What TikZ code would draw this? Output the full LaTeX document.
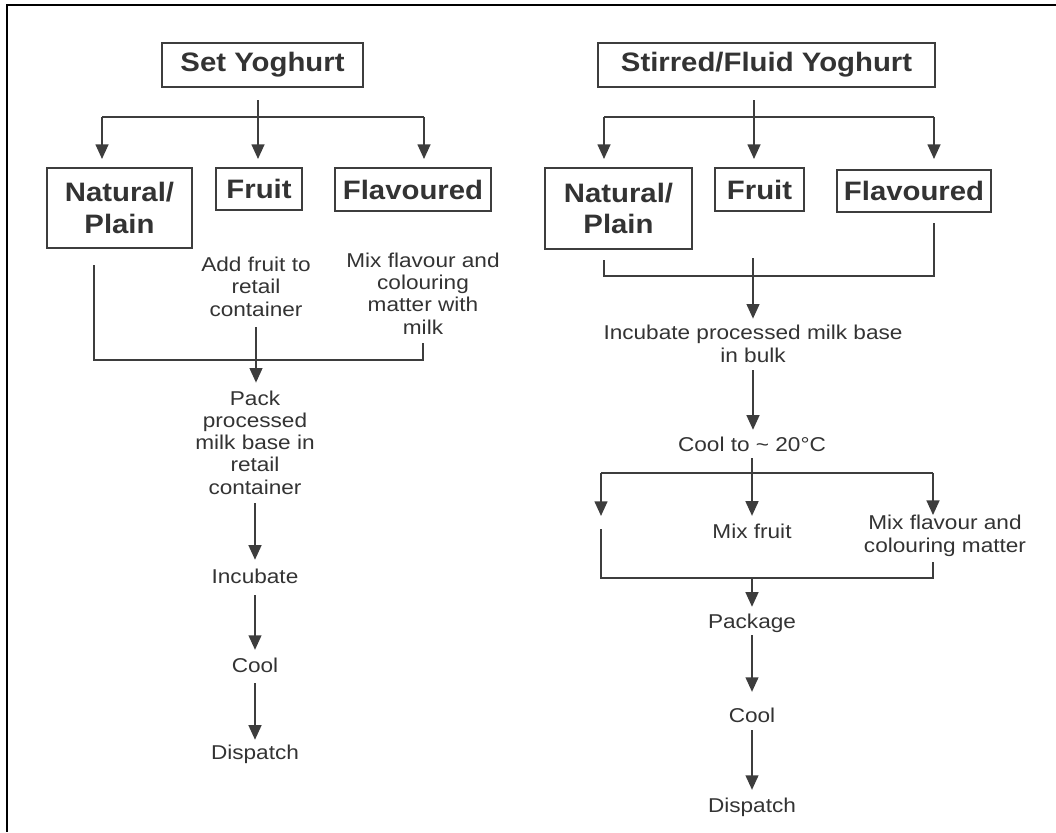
\documentclass[tikz,border=0pt]{standalone}
\usepackage{fontspec}
\setmainfont{Liberation Sans}
\newfontfamily\bodyfont[FakeStretch=1.13]{Liberation Sans}
\newfontfamily\headfont[FakeStretch=1.1]{Liberation Sans}
\usetikzlibrary{arrows.meta}
\definecolor{ink}{HTML}{333333}
\definecolor{rule}{HTML}{3D3D3D}

\begin{document}
\begin{tikzpicture}[x=0.75pt,y=-0.75pt,
  typebox/.style={draw=rule, line width=1.4pt, text=ink, align=center, inner sep=0pt,
    font=\headfont\bfseries\fontsize{20pt}{23.6pt}\selectfont},
  stepnote/.style={text=ink, align=center, inner sep=0pt, anchor=base,
    font=\bodyfont\fontsize{15pt}{16.6pt}\selectfont},
  flow/.style={draw=rule, line width=1.7pt},
  flowarrow/.style={flow, -{Triangle[length=11pt,width=9.5pt]}},
]
\useasboundingbox (0,0) rectangle (1056,832);

% page frame
\draw[black, line width=1.5pt] (1056,5) -- (7,5) -- (7,832);

% ---------------- Set yoghurt ----------------
% (multi-line notes are placed by the baseline of their last line)
\node[typebox, minimum width=150.75pt, minimum height=33pt] (sy) at (262.5,65) {Set Yoghurt};
\node[typebox, minimum width=108.75pt, minimum height=60pt] (np) at (119.5,208) {Natural/\\Plain};
\node[typebox, minimum width=64.5pt, minimum height=31.5pt] (fr) at (259,189) {Fruit};
\node[typebox, minimum width=117pt, minimum height=32.25pt] (fl) at (413,189.5) {Flavoured};

\node[stepnote] (addfr) at (256,316) {Add fruit to\\retail\\container};
\node[stepnote] (mixfl) at (423,334) {Mix flavour and\\colouring\\matter with\\milk};
\node[stepnote] (pack) at (255,494) {Pack\\processed\\milk base in\\retail\\container};
\node[stepnote] (inc) at (255,583) {Incubate};
\node[stepnote] (cool) at (255,672) {Cool};
\node[stepnote] (disp) at (255,759) {Dispatch};

\coordinate (sy-stem) at (258,100);
\coordinate (sy-bar-l) at (102,117);
\coordinate (sy-bar-r) at (424,117);
\draw[flow] (sy-stem) -- (sy-stem |- sy-bar-l);
\draw[flow] (sy-bar-l) -- (sy-bar-r);
\draw[flowarrow, shorten >=6pt] (sy-bar-l) -- (sy-bar-l |- np.north);
\draw[flowarrow, shorten >=6pt] (sy-stem) -- (sy-stem |- fr.north);
\draw[flowarrow, shorten >=6pt] (sy-bar-r) -- (sy-bar-r |- fl.north);

\coordinate (np-drop) at (94,265);
\coordinate (fl-drop) at (423,343);
\coordinate (set-join) at (255,360);
\draw[flow] (np-drop) -- (np-drop |- set-join) -- (set-join -| fl-drop) -- (fl-drop);

\draw[flowarrow, shorten <=8.25pt, shorten >=6pt] (addfr.south) -- (addfr.south |- pack.north);
\draw[flowarrow, shorten <=6.75pt, shorten >=6.3pt] (pack.south) -- (inc.north);
\draw[flowarrow, shorten <=9pt, shorten >=5.5pt] (inc.south) -- (cool.north);
\draw[flowarrow, shorten <=8.25pt, shorten >=3.3pt] (cool.south) -- (disp.north);

% ---------------- Stirred / fluid yoghurt ----------------
\node[typebox, minimum width=252.75pt, minimum height=33pt] (st) at (766.5,65) {Stirred/Fluid Yoghurt};
\node[typebox, minimum width=110.25pt, minimum height=60.75pt] (np2) at (618.5,208.5) {Natural/\\Plain};
\node[typebox, minimum width=66.75pt, minimum height=32.25pt] (fr2) at (759.5,189.5) {Fruit};
\node[typebox, minimum width=115.5pt, minimum height=31.5pt] (fl2) at (914,191) {Flavoured};

\node[stepnote] (incb) at (753,362) {Incubate processed milk base\\in bulk};
\node[stepnote] (cool20) at (752,451) {Cool to \textasciitilde{} 20\textdegree C};
\node[stepnote] (mixfr) at (752,538) {Mix fruit};
\node[stepnote] (mixfl2) at (945,552) {Mix flavour and\\colouring matter};
\node[stepnote] (pkg) at (752,628) {Package};
\node[stepnote] (cool2) at (752,722) {Cool};
\node[stepnote] (disp2) at (752,812) {Dispatch};

\coordinate (st-stem) at (754,100);
\coordinate (st-bar-l) at (604,117);
\coordinate (st-bar-r) at (934,117);
\draw[flow] (st-stem) -- (st-stem |- st-bar-l);
\draw[flow] (st-bar-l) -- (st-bar-r);
\draw[flowarrow, shorten >=6pt] (st-bar-l) -- (st-bar-l |- np2.north);
\draw[flowarrow, shorten >=6pt] (st-stem) -- (st-stem |- fr2.north);
\draw[flowarrow, shorten >=7.5pt] (st-bar-r) -- (st-bar-r |- fl2.north);

\coordinate (np2-drop) at (604,260);
\coordinate (fl2-drop) at (934,223);
\coordinate (st-join) at (753,276);
\coordinate (st-merge) at (753,258);
\draw[flow] (np2-drop) -- (np2-drop |- st-join) -- (st-join -| fl2-drop) -- (fl2-drop);
\draw[flowarrow, shorten >=4.8pt] (st-merge) -- (st-merge |- incb.north);

\draw[flowarrow, shorten <=6pt, shorten >=4.8pt] (incb.south) -- (incb.south |- cool20.north);

\coordinate (fork-l) at (601,473);
\coordinate (fork-r) at (933,473);
\coordinate (fork-l-end) at (601,516);
\draw[flow] (fork-l) -- (fork-r);
\draw[flowarrow, shorten <=5.25pt, shorten >=5.5pt] (cool20.south) -- (mixfr.north);
\draw[flowarrow] (fork-l) -- (fork-l-end);
\draw[flowarrow] (fork-r) -- (fork-r |- mixfl2.north);

\coordinate (mix-l-drop) at (601,529);
\coordinate (mixfl2-drop) at (933,562);
\coordinate (mix-join) at (752,578);
\draw[flow] (mix-l-drop) -- (mix-l-drop |- mix-join) -- (mix-join -| mixfl2-drop) -- (mixfl2-drop);
\draw[flowarrow, shorten >=4.8pt] (mix-join) -- (pkg.north);
\draw[flowarrow, shorten <=2.1pt, shorten >=11.5pt] (pkg.south) -- (cool2.north);
\draw[flowarrow, shorten <=6pt, shorten >=5.5pt] (cool2.south) -- (disp2.north);
\end{tikzpicture}
\end{document}
